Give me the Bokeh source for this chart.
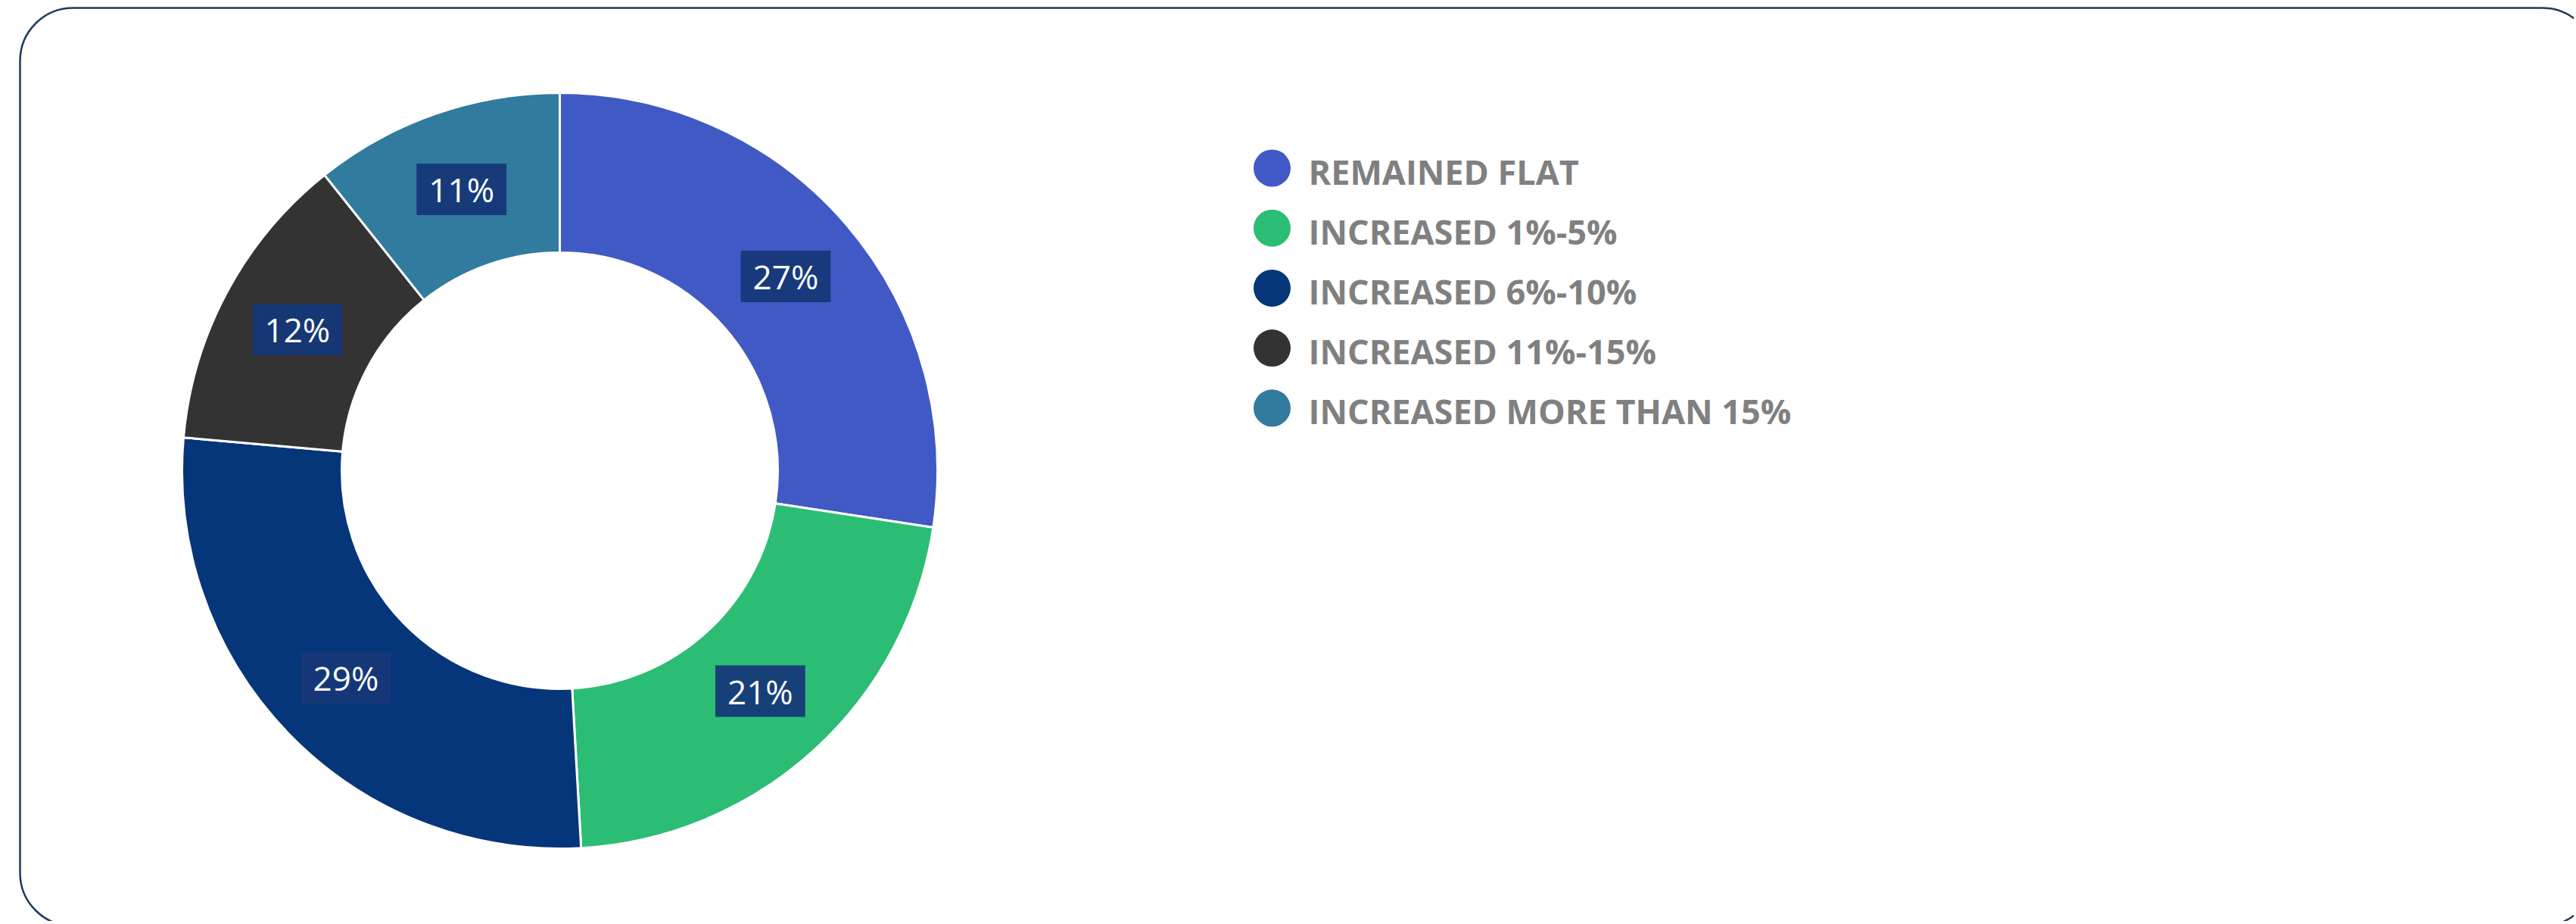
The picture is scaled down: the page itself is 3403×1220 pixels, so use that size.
import math
from bokeh.plotting import figure
from bokeh.models import Range1d, ColumnDataSource, BoxAnnotation
from bokeh.core.properties import value
from bokeh.embed import file_html
from bokeh.resources import INLINE

# ---- data ----
categories = ["REMAINED FLAT", "INCREASED 1%-5%", "INCREASED 6%-10%",
              "INCREASED 11%-15%", "INCREASED MORE THAN 15%"]
# slice sizes as drawn in the picture (percent of the ring)
shares = [27.4, 21.7, 27.3, 12.9, 10.7]
# printed labels
labels = ["27%", "21%", "29%", "12%", "11%"]
colors = ["#4159c4", "#2bbd74", "#05367a", "#333333", "#317b9e"]

# ---- canvas ----
W, H = 3400, 1216
PAGE_OFF = 0


def px(x):
    return x - PAGE_OFF


def py(y):
    return (H + PAGE_OFF) - y


p = figure(width=W, height=H, output_backend="svg", toolbar_location=None,
           x_range=Range1d(0, W), y_range=Range1d(0, H), min_border=0)
p.axis.visible = False
p.grid.visible = False
p.outline_line_color = None
p.background_fill_color = "white"
p.border_fill_color = "white"

# rounded card border
p.add_layout(BoxAnnotation(left=px(26), right=px(3428), top=py(10), bottom=py(1222),
                           fill_alpha=0, line_color="#1f3a5f", line_alpha=1.0,
                           line_width=2.5, border_radius=70, level="underlay"))

# ---- donut ----
cx, cy = px(739), py(621)
r_out, r_in = 499, 288
total = float(sum(shares))
starts, ends, lx, ly = [], [], [], []
cum = 0.0
for v in shares:
    a0 = math.pi / 2 - 2 * math.pi * cum / total
    a1 = math.pi / 2 - 2 * math.pi * (cum + v) / total
    starts.append(a1)
    ends.append(a0)
    mid = math.pi / 2 - 2 * math.pi * (cum + v / 2) / total
    rm = (r_out + r_in) / 2
    lx.append(cx + rm * math.cos(mid))
    ly.append(cy + rm * math.sin(mid))
    cum += v

src = ColumnDataSource(dict(start=starts, end=ends, color=colors,
                            lx=lx, ly=ly, label=labels))
p.annular_wedge(x=cx, y=cy, inner_radius=r_in, outer_radius=r_out,
                start_angle="start", end_angle="end", direction="anticlock",
                fill_color="color", line_color="white", line_width=3, source=src)

p.text(x="lx", y="ly", text="label", source=src,
       text_font=value("Open Sans"), text_font_size="44px", text_color="white",
       text_align="center", text_baseline="middle",
       background_fill_color="#163878", background_fill_alpha=0.95,
       padding=dict(left=16, right=16, top=4, bottom=4))

# ---- legend ----
leg_x = px(1680)
row_y0 = 221.5
row_dy = 79.2
cy_rows = [py(row_y0 + i * row_dy) for i in range(len(categories))]
ty_rows = [py(row_y0 + i * row_dy + 4) for i in range(len(categories))]
lsrc = ColumnDataSource(dict(x=[leg_x] * len(categories), y=cy_rows, ty=ty_rows,
                             tx=[px(1728)] * len(categories),
                             color=colors, name=categories))
p.scatter(x="x", y="y", size=49, marker="circle", fill_color="color",
          line_color=None, source=lsrc)
p.text(x="tx", y="ty", text="name", source=lsrc,
       text_font=value("Open Sans"), text_font_style="bold", text_font_size="45px",
       text_color="#808080", text_align="left", text_baseline="middle")

open("out.html", "w").write(file_html(p, INLINE))
